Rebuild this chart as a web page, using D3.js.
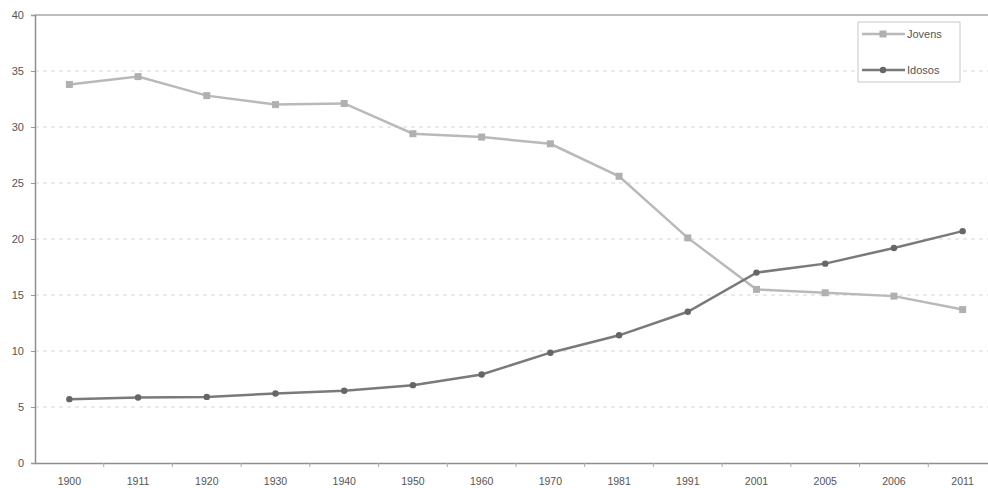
<!DOCTYPE html>
<html><head><meta charset="utf-8">
<script src="https://cdn.jsdelivr.net/npm/d3@7"></script>
<style>body{margin:0;background:#fff}svg{display:block}</style>
</head><body>
<svg id="c" width="988" height="488"></svg>
<script>
const years = ["1900","1911","1920","1930","1940","1950","1960","1970","1981","1991","2001","2005","2006","2011"];
const jovens = [33.8,34.5,32.8,32.0,32.1,29.4,29.1,28.5,25.6,20.1,15.5,15.2,14.9,13.7];
const idosos = [5.7,5.85,5.9,6.2,6.45,6.95,7.9,9.85,11.4,13.5,17.0,17.8,19.2,20.7];
const yTicks = [0,5,10,15,20,25,30,35,40];
const seriesNames = ["Jovens","Idosos"];

const svg = d3.select("#c");
const L = 35, R = 997, T = 15, B = 463;
const x = d3.scaleBand().domain(years).range([L, R]);
const y = d3.scaleLinear().domain([0, 40]).range([B, T]);

// grid
svg.append("g").selectAll("line").data(yTicks.filter(d => d > 0 && d < 40)).join("line")
  .attr("x1", L).attr("x2", 988).attr("y1", d => y(d)).attr("y2", d => y(d))
  .attr("stroke", "#d6d6d6").attr("stroke-dasharray", "4,4").attr("stroke-width", 1);
// top border
svg.append("line").attr("x1", L).attr("x2", 988).attr("y1", y(40)).attr("y2", y(40))
  .attr("stroke", "#a8a8a8").attr("stroke-width", 1.5);

// y axis
const ya = svg.append("g").attr("transform", `translate(${L},0)`)
  .call(d3.axisLeft(y).tickValues(yTicks).tickSize(4).tickPadding(7));
ya.select(".domain").attr("stroke", "#8e8e8e").attr("stroke-width", 1.5);
ya.selectAll(".tick line").attr("stroke", "#9a9a9a");
ya.selectAll("text").attr("font-family", "Liberation Sans, Arial").attr("font-size", 11).attr("fill", "#555");

// x axis
const xa = svg.append("g").attr("transform", `translate(0,${B})`)
  .call(d3.axisBottom(x).tickSize(0).tickPadding(15));
xa.select(".domain").attr("stroke", "#8e8e8e").attr("stroke-width", 1.5);
xa.selectAll("text").attr("font-family", "Liberation Sans, Arial").attr("font-size", 10.5).attr("fill", "#555");
xa.selectAll(".tick").append("line")
  .attr("x1", x.bandwidth()/2).attr("x2", x.bandwidth()/2).attr("y1", 0).attr("y2", 4).attr("stroke", "#aaa");

const cx = d => x(d) + x.bandwidth() / 2;
const line = d3.line().x((d, i) => cx(years[i])).y(d => y(d));

// Jovens
svg.append("path").datum(jovens).attr("d", line).attr("fill", "none")
  .attr("stroke", "#b9b9b9").attr("stroke-width", 2.5);
svg.append("g").selectAll("rect").data(jovens).join("rect")
  .attr("x", (d, i) => cx(years[i]) - 3.5).attr("y", d => y(d) - 3.5)
  .attr("width", 7).attr("height", 7).attr("fill", "#b0b0b0");

// Idosos
svg.append("path").datum(idosos).attr("d", line).attr("fill", "none")
  .attr("stroke", "#7a7a7a").attr("stroke-width", 2.5);
svg.append("g").selectAll("circle").data(idosos).join("circle")
  .attr("cx", (d, i) => cx(years[i])).attr("cy", d => y(d)).attr("r", 3.2).attr("fill", "#666");

// legend
const lg = svg.append("g");
lg.append("rect").attr("x", 858).attr("y", 22).attr("width", 102).attr("height", 60)
  .attr("fill", "#fff").attr("stroke", "#c8c8c8").attr("stroke-width", 1);
const rows = [{n: seriesNames[0], c: "#b9b9b9", m: "rect"}, {n: seriesNames[1], c: "#7a7a7a", m: "circle"}];
rows.forEach((r, i) => {
  const yy = 34 + i * 36;
  lg.append("line").attr("x1", 862).attr("x2", 905).attr("y1", yy).attr("y2", yy)
    .attr("stroke", r.c).attr("stroke-width", 2.5);
  if (r.m === "rect") lg.append("rect").attr("x", 879.5).attr("y", yy - 3.5).attr("width", 7).attr("height", 7).attr("fill", "#b0b0b0");
  else lg.append("circle").attr("cx", 883).attr("cy", yy).attr("r", 3.2).attr("fill", "#666");
  lg.append("text").attr("x", 907).attr("y", yy + 4).text(r.n)
    .attr("font-family", "Liberation Sans, Arial").attr("font-size", 11).attr("fill", "#555");
});
</script>
</body></html>
